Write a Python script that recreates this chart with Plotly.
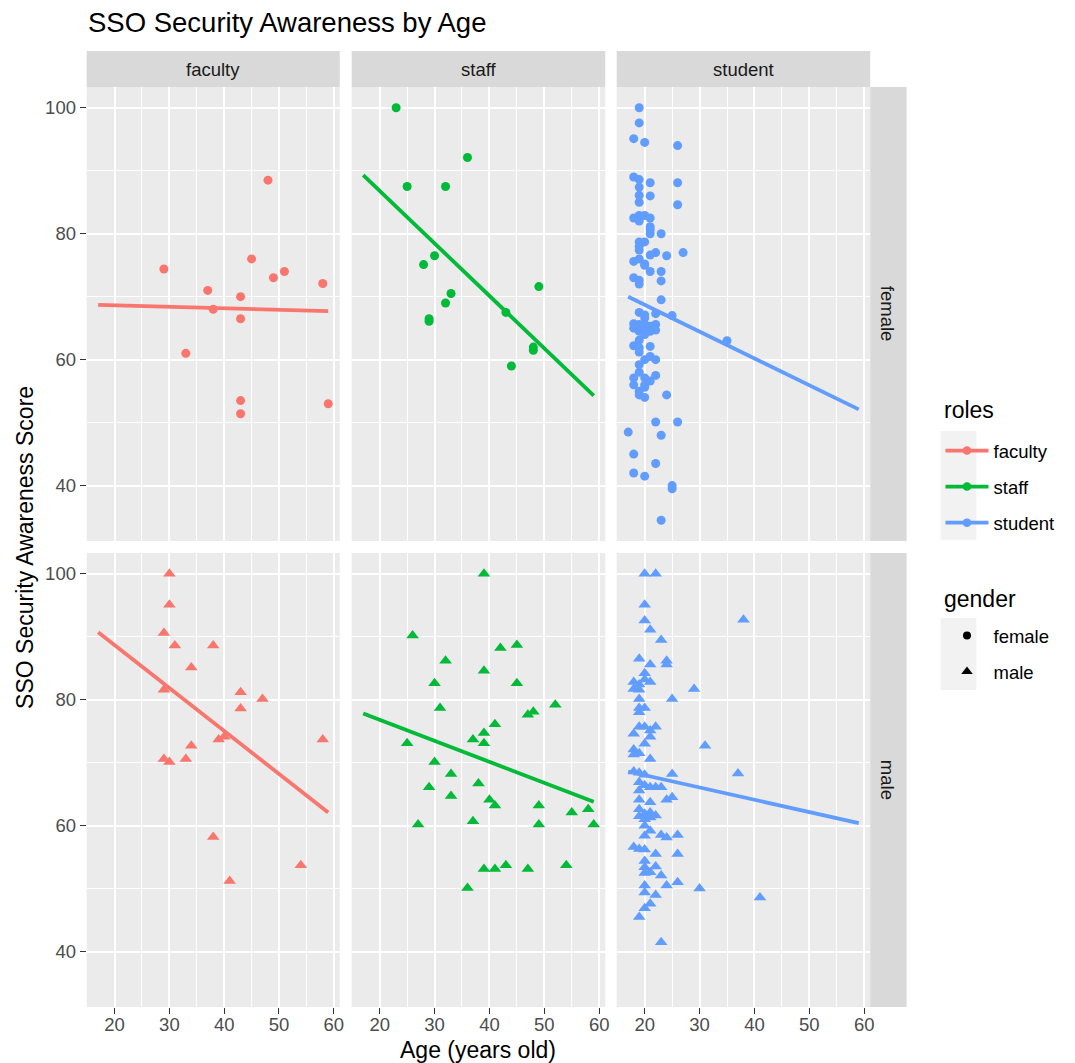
import plotly.graph_objects as go

W, H = 1075, 1063
FONT = "Liberation Sans, Arial, Helvetica, sans-serif"

# ---------------- data ----------------
roles = ["faculty", "staff", "student"]
genders = ["female", "male"]
role_colors = ["#F8766D", "#00BA38", "#619CFF"]
gender_symbols = ["circle", "triangle-up"]

faculty_female_age = [48, 29, 45, 51, 49, 58, 37, 43, 38, 43, 33, 43, 43, 59]
faculty_female_score = [88.5, 74.4, 76.0, 74.0, 73.0, 72.1, 71.0, 70.0, 68.0, 66.5, 61.0, 53.5, 51.4, 53.0]

staff_female_age = [23, 36, 25, 32, 30, 28, 49, 33, 32, 29, 29, 43, 48, 48, 44]
staff_female_score = [100, 92.1, 87.5, 87.5, 76.5, 75.1, 71.6, 70.5, 69.0, 66.5, 66.1, 67.5, 62.0, 61.5, 59.0]

student_female_age = [19, 19, 18, 20, 26, 18, 19, 21, 26, 19, 19, 21, 19, 26,
                      18, 19, 19, 20, 21, 21, 21, 21, 23, 19, 20, 19, 19, 27, 22, 21, 24,
                      18, 19, 20, 20, 21, 23, 18, 19, 19, 23, 23,
                      19, 20, 20, 22, 25, 18, 18, 19, 19, 19, 20, 20, 20, 20, 21, 21, 22, 22,
                      19, 18, 19, 19, 21, 20, 21, 22, 19, 19, 18, 18, 20, 20, 21, 22,
                      19, 19, 20, 20, 24, 22, 26, 17, 23, 18, 22, 18, 20, 25, 25, 23, 35]
student_female_score = [100, 97.6, 95.1, 94.5, 94.0, 89.0, 88.6, 88.1, 88.1, 87.4, 86.1, 86.0, 85.0, 84.6,
                        82.5, 82.9, 82.0, 82.9, 82.5, 81.1, 80.6, 80.0, 80.0, 78.7, 78.7, 78.0, 77.4, 77.0, 77.0, 76.6, 76.5,
                        75.6, 76.0, 75.2, 75.0, 74.0, 74.0, 73.0, 72.6, 72.0, 72.5, 69.5,
                        67.5, 67.1, 66.6, 67.3, 67.0, 65.7, 65.0, 65.6, 65.0, 64.5, 65.6, 65.0, 64.5, 64.0, 65.3, 64.5, 65.6, 64.7,
                        63.1, 62.2, 61.9, 61.2, 62.1, 60.0, 60.5, 60.0, 59.2, 58.0, 57.1, 56.0, 57.1, 56.0, 56.6, 57.5,
                        55.0, 54.4, 55.6, 54.0, 54.4, 50.1, 50.1, 48.5, 48.0, 45.0, 43.5, 42.0, 41.5, 40.0, 39.5, 34.5, 63.0]

faculty_male_age = [30, 30, 29, 31, 38, 34, 29, 43, 47, 43, 39, 40, 58, 34, 29, 30, 33, 38, 54, 41]
faculty_male_score = [100, 95.1, 90.6, 88.6, 88.6, 85.1, 81.6, 81.2, 80.1, 78.6, 73.7, 74.1, 73.7, 72.7, 70.6, 70.1, 70.6, 58.2, 53.7, 51.2]

staff_male_age = [39, 26, 42, 45, 32, 39, 30, 45, 31, 52, 47, 48, 41, 39, 37, 39, 25, 30, 33, 38,
                  29, 33, 40, 41, 49, 55, 58, 27, 37, 49, 59, 39, 41, 43, 47, 54, 36]
staff_male_score = [100, 90.2, 88.2, 88.7, 86.2, 84.6, 82.6, 82.6, 78.7, 79.2, 77.6, 78.1, 76.1, 74.7, 73.7, 73.1, 73.1, 70.1, 68.2, 66.7,
                    66.1, 64.7, 64.1, 63.2, 63.2, 62.1, 62.6, 60.2, 60.7, 60.2, 60.2, 53.1, 53.1, 53.7, 53.1, 53.7, 50.1]

student_male_age = [20, 22, 20, 20, 21, 23, 19, 21, 24, 24, 20, 20, 18, 18, 19, 19, 19, 21, 29, 25,
                    19, 19, 20, 19, 20, 22, 21, 18, 21, 20, 18, 18, 19, 31, 21, 18, 19, 20, 25, 38, 37,
                    19, 20, 21, 22, 23, 19, 25, 24, 19, 21, 19, 20, 20, 21, 21, 22, 19,
                    20, 21, 20, 23, 24, 26, 18, 19, 20, 22, 26, 20, 22, 20, 20, 21, 23,
                    24, 26, 30, 20, 20, 22, 21, 20, 19, 23, 41]
student_male_score = [100, 100, 95.1, 92.6, 91.1, 89.5, 86.5, 85.6, 86.2, 85.6, 84.2, 83.2, 82.8, 81.7, 82.4, 81.6, 80.1, 82.8, 81.7, 80.1,
                      78.7, 78.0, 78.7, 75.7, 75.7, 75.7, 75.1, 74.6, 74.1, 73.0, 72.1, 71.3, 71.5, 72.7, 70.6, 68.6, 68.4, 68.1, 68.2, 92.7, 68.3,
                      66.9, 66.4, 66.1, 66.1, 66.1, 65.6, 64.5, 64.1, 64.1, 63.7, 62.6, 61.9, 61.0, 62.1, 61.3, 61.6, 61.5,
                      60.0, 59.2, 58.4, 58.5, 58.1, 58.5, 56.6, 56.3, 56.2, 55.5, 55.5, 54.4, 53.5, 53.4, 52.5, 52.6, 52.1,
                      50.5, 51.0, 50.0, 50.5, 49.4, 49.0, 47.6, 46.9, 45.5, 41.5, 48.6]

# fitted lm lines (fullrange), read at the ends of the age range
fit_age = [17, 59]
faculty_female_fit = [68.7, 67.7]
staff_female_fit = [89.3, 54.3]
student_female_fit = [70.0, 52.1]
faculty_male_fit = [90.7, 62.1]
staff_male_fit = [77.8, 63.8]
student_male_fit = [68.6, 60.4]

x_ticks = [20, 30, 40, 50, 60]
x_minor = [15, 25, 35, 45, 55]
y_ticks = [40, 60, 80, 100]
y_minor = [50, 70, 90]

panels = {
    ("faculty", "female"): (faculty_female_age, faculty_female_score, faculty_female_fit),
    ("staff", "female"): (staff_female_age, staff_female_score, staff_female_fit),
    ("student", "female"): (student_female_age, student_female_score, student_female_fit),
    ("faculty", "male"): (faculty_male_age, faculty_male_score, faculty_male_fit),
    ("staff", "male"): (staff_male_age, staff_male_score, staff_male_fit),
    ("student", "male"): (student_male_age, student_male_score, student_male_fit),
}

# ---------------- layout geometry (pixels) ----------------
col_px = [(87, 341), (353, 607.5), (619, 873.5)]
row_px = [(87, 541), (553, 1007)]
x_range = [14.9, 61.1]
y_range = [31.2, 103.3]

TICK_SIZE = 18.5
STRIP_SIZE = 18.5
AXTITLE_SIZE = 23
TITLE_SIZE = 27.5
LEG_SIZE = 18.5


def px(x):
    return x / W


def py(y):
    return 1 - y / H


fig = go.Figure()
layout = dict(
    width=W, height=H,
    margin=dict(l=0, r=0, t=0, b=0),
    paper_bgcolor="white",
    plot_bgcolor="#EBEBEB",
    font=dict(family=FONT, color="#4D4D4D", size=TICK_SIZE),
    showlegend=True,
)

shapes = []
annotations = []

for r, g in enumerate(genders):
    for c, role in enumerate(roles):
        k = r * 3 + c + 1
        xa = "x" if k == 1 else f"x{k}"
        ya = "y" if k == 1 else f"y{k}"
        xname = "xaxis" if k == 1 else f"xaxis{k}"
        yname = "yaxis" if k == 1 else f"yaxis{k}"
        bottom = r == 1
        left = c == 0
        layout[xname] = dict(
            domain=[px(col_px[c][0]), px(col_px[c][1])],
            anchor=ya, range=x_range, tickvals=x_ticks,
            showgrid=True, gridcolor="white", gridwidth=2,
            minor=dict(tickvals=x_minor, showgrid=True, gridcolor="white", gridwidth=1, ticks=""),
            zeroline=False, showline=False,
            showticklabels=bottom, ticks="outside" if bottom else "",
            ticklen=6, tickwidth=1, tickcolor="#333333", ticklabelstandoff=-5,
            tickfont=dict(size=TICK_SIZE, color="#4D4D4D", family=FONT),
            fixedrange=True,
        )
        layout[yname] = dict(
            domain=[py(row_px[r][1]), py(row_px[r][0])],
            anchor=xa, range=y_range, tickvals=y_ticks,
            showgrid=True, gridcolor="white", gridwidth=2,
            minor=dict(tickvals=y_minor, showgrid=True, gridcolor="white", gridwidth=1, ticks=""),
            zeroline=False, showline=False,
            showticklabels=left, ticks="outside" if left else "",
            ticklen=6, tickwidth=1, tickcolor="#333333",
            tickfont=dict(size=TICK_SIZE, color="#4D4D4D", family=FONT),
            fixedrange=True,
        )
        ages, scores, fit = panels[(role, g)]
        color = role_colors[c]
        fig.add_trace(go.Scatter(
            x=ages, y=scores, mode="markers", xaxis=xa, yaxis=ya,
            marker=dict(color=color, size=9 if g == "female" else 11,
                        symbol=gender_symbols[r], line=dict(width=0)),
            showlegend=False, hoverinfo="x+y",
        ))
        fig.add_trace(go.Scatter(
            x=fit_age, y=fit, mode="lines", xaxis=xa, yaxis=ya,
            line=dict(color=color, width=3.8),
            showlegend=False, hoverinfo="skip",
        ))

# strips
for c, role in enumerate(roles):
    shapes.append(dict(type="rect", xref="paper", yref="paper",
                       x0=px(col_px[c][0]), x1=px(col_px[c][1]), y0=py(87), y1=py(51),
                       fillcolor="#D9D9D9", line=dict(width=0), layer="below"))
    annotations.append(dict(text=role, xref="paper", yref="paper",
                            x=px((col_px[c][0] + col_px[c][1]) / 2), y=py(69),
                            showarrow=False, xanchor="center", yanchor="middle",
                            font=dict(size=STRIP_SIZE, color="#1A1A1A", family=FONT)))
for r, g in enumerate(genders):
    shapes.append(dict(type="rect", xref="paper", yref="paper",
                       x0=px(873.5), x1=px(910), y0=py(row_px[r][1]), y1=py(row_px[r][0]),
                       fillcolor="#D9D9D9", line=dict(width=0), layer="below"))
    annotations.append(dict(text=g, xref="paper", yref="paper",
                            x=px(891.5), y=py((row_px[r][0] + row_px[r][1]) / 2),
                            showarrow=False, textangle=90, xanchor="center", yanchor="middle",
                            font=dict(size=STRIP_SIZE, color="#1A1A1A", family=FONT)))

# titles
annotations.append(dict(text="SSO Security Awareness by Age", xref="paper", yref="paper",
                        x=px(86), y=py(22), showarrow=False, xanchor="left", yanchor="middle",
                        font=dict(size=TITLE_SIZE, color="black", family=FONT)))
annotations.append(dict(text="Age (years old)", xref="paper", yref="paper",
                        x=px(480), y=py(1050), showarrow=False, xanchor="center", yanchor="middle",
                        font=dict(size=AXTITLE_SIZE, color="black", family=FONT)))
annotations.append(dict(text="SSO Security Awareness Score", xref="paper", yref="paper",
                        x=px(25), y=py(547), showarrow=False, xanchor="center", yanchor="middle",
                        textangle=-90, font=dict(size=AXTITLE_SIZE, color="black", family=FONT)))

# legend titles
annotations.append(dict(text="roles", xref="paper", yref="paper",
                        x=px(946), y=py(410), showarrow=False, xanchor="left", yanchor="middle",
                        font=dict(size=AXTITLE_SIZE, color="black", family=FONT)))
annotations.append(dict(text="gender", xref="paper", yref="paper",
                        x=px(946), y=py(599), showarrow=False, xanchor="left", yanchor="middle",
                        font=dict(size=AXTITLE_SIZE, color="black", family=FONT)))

# legend key backgrounds
shapes.append(dict(type="rect", xref="paper", yref="paper", x0=px(944), x1=px(980),
                   y0=py(540), y1=py(431), fillcolor="#F2F2F2", line=dict(width=0), layer="below"))
shapes.append(dict(type="rect", xref="paper", yref="paper", x0=px(944), x1=px(980),
                   y0=py(690), y1=py(618), fillcolor="#F2F2F2", line=dict(width=0), layer="below"))

# legend entries
for c, role in enumerate(roles):
    fig.add_trace(go.Scatter(
        x=[None], y=[None], mode="lines+markers", name=role, legend="legend",
        legendgroup=role, line=dict(color=role_colors[c], width=3.8),
        marker=dict(color=role_colors[c], size=8.5, symbol="circle"),
    ))
for r, g in enumerate(genders):
    fig.add_trace(go.Scatter(
        x=[None], y=[None], mode="markers", name=g, legend="legend2",
        legendgroup=g, marker=dict(color="black", size=8 if r == 0 else 10, symbol=gender_symbols[r]),
    ))

legend_common = dict(
    xanchor="left", yanchor="top", bgcolor="rgba(0,0,0,0)", borderwidth=0,
    font=dict(size=LEG_SIZE, color="black", family=FONT), traceorder="grouped",
    tracegroupgap=9, itemwidth=43,
)
layout["legend"] = dict(x=px(944), y=py(432), **legend_common)
layout["legend2"] = dict(x=px(944), y=py(617), **legend_common)

layout["shapes"] = shapes
layout["annotations"] = annotations
fig.update_layout(**layout)

fig.write_html("out.html", config={"displayModeBar": False},
               post_script="document.body.style.margin='0px';")
